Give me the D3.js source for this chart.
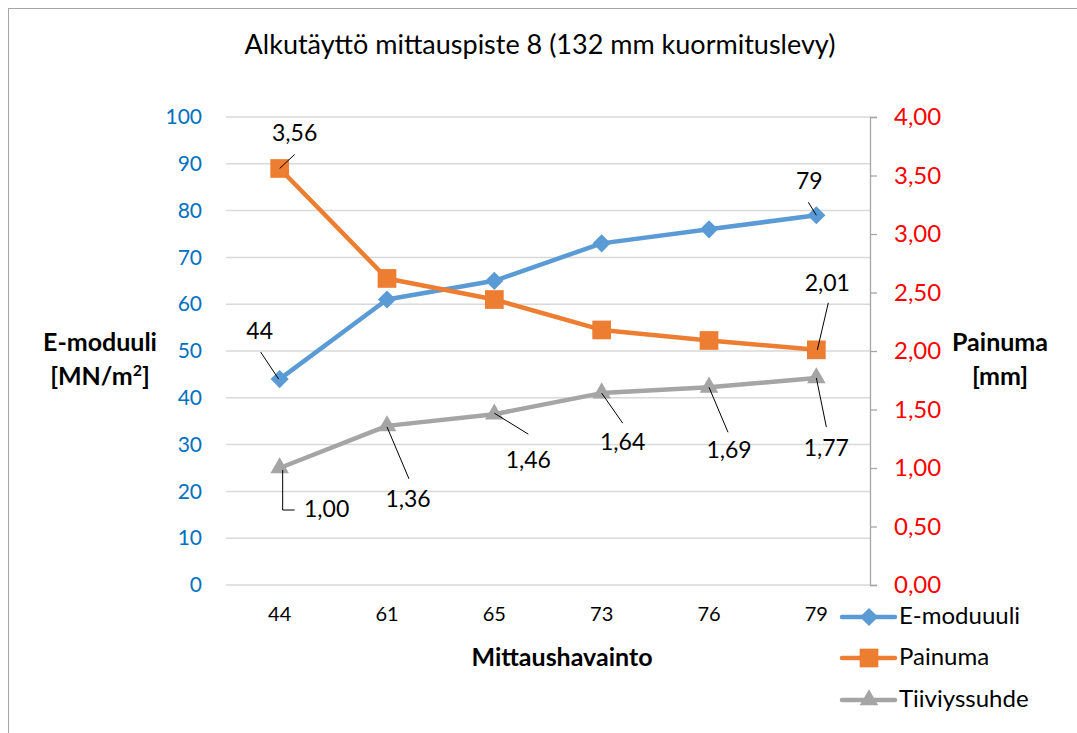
<!DOCTYPE html>
<html lang="fi">
<head>
<meta charset="utf-8">
<title>Alkutäyttö mittauspiste 8</title>
<style>
  body { margin: 0; background: #fff; }
  svg text { font-family: Lato, "Open Sans", sans-serif; }
</style>
</head>
<body>
<svg width="1077" height="733"></svg>
<script src="https://cdn.jsdelivr.net/npm/d3@7"></script>
<script>

var categories = ["44", "61", "65", "73", "76", "79"];
var eModuuli = [44, 61, 65, 73, 76, 79];
var painuma = [3.56, 2.62, 2.44, 2.18, 2.09, 2.01];
var tiiviys = [1.00, 1.36, 1.46, 1.64, 1.69, 1.77];
var leftTicks = [0, 10, 20, 30, 40, 50, 60, 70, 80, 90, 100];
var rightTicks = [0, 0.5, 1, 1.5, 2, 2.5, 3, 3.5, 4];
var seriesNames = ["E-moduuuli", "Painuma", "Tiiviyssuhde"];

var svg = d3.select("svg");

var fmt = function(v) { return d3.format(".2f")(v).replace(".", ","); };

var x = d3.scaleBand().domain(categories).range([226, 870]);
var yL = d3.scaleLinear().domain([0, 100]).range([585, 117]);
var yR = d3.scaleLinear().domain([0, 4]).range([585, 117]);
var cx = function(i) { return x(categories[i]) + x.bandwidth() / 2; };

// rotated square for the Excel style diamond
var diamond = {
  draw: function(ctx, size) {
    var r = Math.sqrt(size / 2);
    ctx.moveTo(0, -r); ctx.lineTo(r, 0); ctx.lineTo(0, r); ctx.lineTo(-r, 0); ctx.closePath();
  }
};

// chart border
svg.append("rect")
    .attr("x", 8.5).attr("y", 8.5)
    .attr("width", 1100).attr("height", 800)
    .attr("fill", "none").attr("stroke", "#a6a6a6");

svg.append("text")
    .attr("x", 540).attr("y", 47)
    .attr("text-anchor", "middle").attr("dominant-baseline", "middle")
    .style("font-size", "27px").attr("fill", "#000")
    .text("Alkutäyttö mittauspiste 8 (132 mm kuormituslevy)");

// gridlines
svg.append("g").selectAll("line")
    .data(leftTicks).enter().append("line")
    .attr("x1", 226).attr("x2", 870)
    .attr("y1", function(d) { return yL(d); })
    .attr("y2", function(d) { return yL(d); })
    .attr("stroke", "#d9d9d9").attr("stroke-width", 1.5);

// left axis
var gl = svg.append("g").attr("transform", "translate(202,0)")
    .call(d3.axisLeft(yL).tickValues(leftTicks).tickSize(0).tickPadding(0));
gl.select(".domain").remove();
gl.selectAll("text").attr("fill", "#0070c0")
    .style("font-size", "21px").style("font-family", "Lato, sans-serif");

// right axis
var gr = svg.append("g").attr("transform", "translate(870,0)")
    .call(d3.axisRight(yR).tickValues(rightTicks).tickFormat(fmt).tickSizeInner(7).tickSizeOuter(7).tickPadding(17));
gr.select(".domain").attr("stroke", "#a6a6a6").attr("stroke-width", 1.3);
gr.selectAll("line").attr("stroke", "#a6a6a6").attr("stroke-width", 1.3);
gr.selectAll("text").attr("fill", "#ff0000")
    .style("font-size", "24px").style("font-family", "Lato, sans-serif");

// x axis labels
var gx = svg.append("g").attr("transform", "translate(0,585)")
    .call(d3.axisBottom(x).tickSize(0).tickPadding(22));
gx.select(".domain").remove();
gx.selectAll("text").attr("fill", "#000")
    .style("font-size", "20px").style("font-family", "Lato, sans-serif");

// axis titles
svg.append("text").attr("x", 562).attr("y", 660)
    .attr("text-anchor", "middle").attr("dominant-baseline", "middle")
    .style("font-size", "25px").style("font-weight", "bold").text("Mittaushavainto");

var lt = svg.append("text").attr("text-anchor", "middle")
    .style("font-size", "25px").style("font-weight", "bold");
lt.append("tspan").attr("x", 100).attr("y", 351).text("E-moduuli");
var t2 = lt.append("tspan").attr("x", 100).attr("y", 385).text("[MN/m");
t2.append("tspan").attr("dy", -9).style("font-size", "16px").text("2");
t2.append("tspan").attr("dy", 9).text("]");

var rt = svg.append("text").attr("text-anchor", "middle")
    .style("font-size", "25px").style("font-weight", "bold");
rt.append("tspan").attr("x", 1000).attr("y", 351).text("Painuma");
rt.append("tspan").attr("x", 1000).attr("y", 385).text("[mm]");

// series
function fmtInt(v) { return String(v); }
var series = [
  { name: seriesNames[0], values: eModuuli, y: yL, color: "#5b9bd5", marker: diamond, size: 165, label: fmtInt },
  { name: seriesNames[1], values: painuma, y: yR, color: "#ed7d31", marker: d3.symbolSquare, size: 350, label: fmt },
  { name: seriesNames[2], values: tiiviys, y: yR, color: "#a5a5a5", marker: d3.symbolTriangle, size: 150, label: fmt }
];

series.forEach(function(s) {
  var line = d3.line()
      .x(function(d, i) { return cx(i); })
      .y(function(d) { return s.y(d); });
  svg.append("path").datum(s.values)
      .attr("d", line).attr("fill", "none")
      .attr("stroke", s.color).attr("stroke-width", 4.5)
      .attr("stroke-linejoin", "round").attr("stroke-linecap", "round");
  svg.append("g").selectAll("path")
      .data(s.values).enter().append("path")
      .attr("transform", function(d, i) { return "translate(" + cx(i) + "," + s.y(d) + ")"; })
      .attr("d", d3.symbol().type(s.marker).size(s.size))
      .attr("fill", s.color);
});

// data labels with leader lines: [series, index, label dx, label dy, leader path (relative to point)]
var labels = [
  [0, 0, -20, -46, [[-19, -27], [-1, 0]]],
  [0, 5, -7, -32, [[-8, -13], [0, 0]]],
  [1, 0, 15, -33, [[15, -14], [0, 0]]],
  [1, 5, 11, -65, [[12, -47], [1, 0]]],
  [2, 0, 47, 43, [[3, 2], [3, 42], [15, 42]]],
  [2, 1, 21, 75, [[0, 1], [22, 53]]],
  [2, 2, 34, 48, [[0, -1], [34, 20]]],
  [2, 3, 21, 51, [[0, 0], [21, 30]]],
  [2, 4, 20, 65, [[0, 0], [19, 45]]],
  [2, 5, 10, 72, [[0, 0], [10, 49]]]
];

labels.forEach(function(l) {
  var s = series[l[0]], i = l[1];
  var px = cx(i), py = s.y(s.values[i]);
  svg.append("path")
      .attr("d", d3.line()(l[4].map(function(p) { return [px + p[0], py + p[1]]; })))
      .attr("fill", "none").attr("stroke", "#000").attr("stroke-width", 1);
  svg.append("text")
      .attr("x", px + l[2]).attr("y", py + l[3])
      .attr("text-anchor", "middle").attr("dominant-baseline", "middle")
      .style("font-size", "23px").attr("fill", "#000")
      .text(s.label(s.values[i]));
});

// legend
var legendY = [617, 658, 700];
series.forEach(function(s, k) {
  var g = svg.append("g").attr("transform", "translate(0," + legendY[k] + ")");
  g.append("line").attr("x1", 842).attr("x2", 895)
      .attr("stroke", s.color).attr("stroke-width", 4.5).attr("stroke-linecap", "round");
  g.append("path").attr("transform", "translate(869,0)")
      .attr("d", d3.symbol().type(s.marker).size(s.size))
      .attr("fill", s.color);
  g.append("text").attr("x", 899).attr("y", 1)
      .attr("dominant-baseline", "middle")
      .style("font-size", "24px").attr("fill", "#000")
      .text(s.name);
});

</script>
</body>
</html>
